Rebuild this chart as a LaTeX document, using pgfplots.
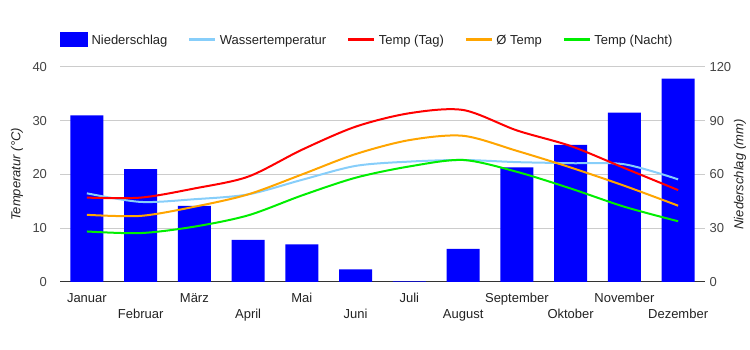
\documentclass[border=0pt]{standalone}
\usepackage{fontspec}
\setmainfont{Liberation Sans}
\usepackage{pgfplots}
\usepackage{pgfplotstable}
\pgfplotsset{compat=1.18}
\definecolor{barblue}{HTML}{0000FF}
\definecolor{wblue}{HTML}{87CEFA}
\definecolor{tred}{HTML}{FF0000}
\definecolor{torange}{HTML}{FFA500}
\definecolor{tgreen}{HTML}{00EE00}
\definecolor{gridc}{HTML}{CCCCCC}
\definecolor{axisc}{HTML}{333333}
\definecolor{tickc}{HTML}{444444}
\definecolor{labc}{HTML}{222222}

\pgfplotstableread{
x rain water day avg night
0 93   16.5 15.7 12.5 9.4
1 63   14.9 15.7 12.3 9.1
2 42.5 15.4 17.4 14.0 10.3
3 23.5 16.3 19.6 16.3 12.4
4 21   19.0 24.6 20.0 16.1
5 7    21.6 28.9 23.8 19.4
6 0.3  22.4 31.4 26.4 21.5
7 18.5 22.7 32.0 27.2 22.7
8 64   22.3 28.2 24.4 20.5
9 76.5 22.1 25.3 21.3 17.4
10 94.5 21.9 21.2 17.9 14.0
11 113.5 19.1 17.1 14.2 11.3
}\data

\begin{document}
\fontsize{13bp}{15.6bp}\selectfont
\begin{tikzpicture}
\path[use as bounding box] (0,0) rectangle (750bp,350bp);
% right axis with bars
\begin{axis}[
  at={(60bp,68bp)}, anchor=south west,
  scale only axis, width=645bp, height=215bp,
  xmin=-0.5, xmax=11.5, ymin=0, ymax=120,
  axis x line*=bottom, axis y line*=right,
  axis line style={-},
  x axis line style={draw=axisc, line width=1bp},
  y axis line style={draw=none},
  ytick={0,30,60,90,120},
  ymajorgrids, grid style={draw=gridc, line width=1bp},
  major tick length=0pt,
  /pgf/number format/assume math mode=true,
  yticklabel style={text=tickc, font=\fontsize{13bp}{15.6bp}\selectfont},
  xtick={0,2,4,6,8,10},
  xticklabels={Januar,März,Mai,Juli,September,November},
  xticklabel style={anchor=base, yshift=-20.5bp, text=labc, font=\fontsize{13bp}{15.6bp}\selectfont},
  extra x ticks={1,3,5,7,9,11},
  extra x tick labels={Februar,April,Juni,August,Oktober,Dezember},
  extra x tick style={grid=none, xticklabel style={yshift=-16bp}},
  ylabel={\itshape Niederschlag (mm)},
  ylabel style={at={(rel axis cs:1,0.5)}, anchor=center, yshift=-35bp, text=labc, font=\fontsize{13bp}{15.6bp}\selectfont},
]
\addplot[ybar, bar width=33bp, bar shift=0pt, fill=barblue, draw=none] table[x=x, y=rain] {\data};
\end{axis}
% left axis with lines
\begin{axis}[
  at={(60bp,68bp)}, anchor=south west,
  scale only axis, width=645bp, height=215bp,
  xmin=-0.5, xmax=11.5, ymin=0, ymax=40,
  axis x line=none, axis y line*=left,
  axis line style={-},
  y axis line style={draw=none},
  ytick={0,10,20,30,40},
  major tick length=0pt,
  /pgf/number format/assume math mode=true,
  yticklabel style={text=tickc, xshift=-8.5bp, font=\fontsize{13bp}{15.6bp}\selectfont},
  ylabel={\itshape Temperatur (°C)},
  ylabel style={at={(rel axis cs:0,0.5)}, anchor=center, yshift=43bp, text=labc, font=\fontsize{13bp}{15.6bp}\selectfont},
  legend columns=5,
  legend cell align=left,
  legend style={at={(0,1)}, anchor=west, yshift=27.5bp, draw=none, fill=none,
    inner sep=0pt, outer sep=0pt,
    nodes={inner sep=0pt, text height=9.5bp, text depth=2.7bp, text=labc, font=\fontsize{13bp}{15.6bp}\selectfont},
    /tikz/every odd column/.append style={column sep=3.5bp},
    /tikz/every even column/.append style={column sep=21bp}},
  legend image code/.code={\draw[#1] (0bp,1.1bp) -- (26bp,1.1bp);},
  every axis plot/.append style={line width=2bp, smooth},
]
\addlegendimage{legend image code/.code={\fill[barblue] (0bp,-5.1bp) rectangle (26bp,7.3bp);}}
\addlegendentry{Niederschlag}
\addplot[wblue] table[x=x, y=water] {\data};
\addlegendentry{Wassertemperatur}
\addplot[tred] table[x=x, y=day] {\data};
\addlegendentry{Temp (Tag)}
\addplot[torange] table[x=x, y=avg] {\data};
\addlegendentry{Ø Temp}
\addplot[tgreen] table[x=x, y=night] {\data};
\addlegendentry{Temp (Nacht)}
\end{axis}
\end{tikzpicture}
\end{document}
